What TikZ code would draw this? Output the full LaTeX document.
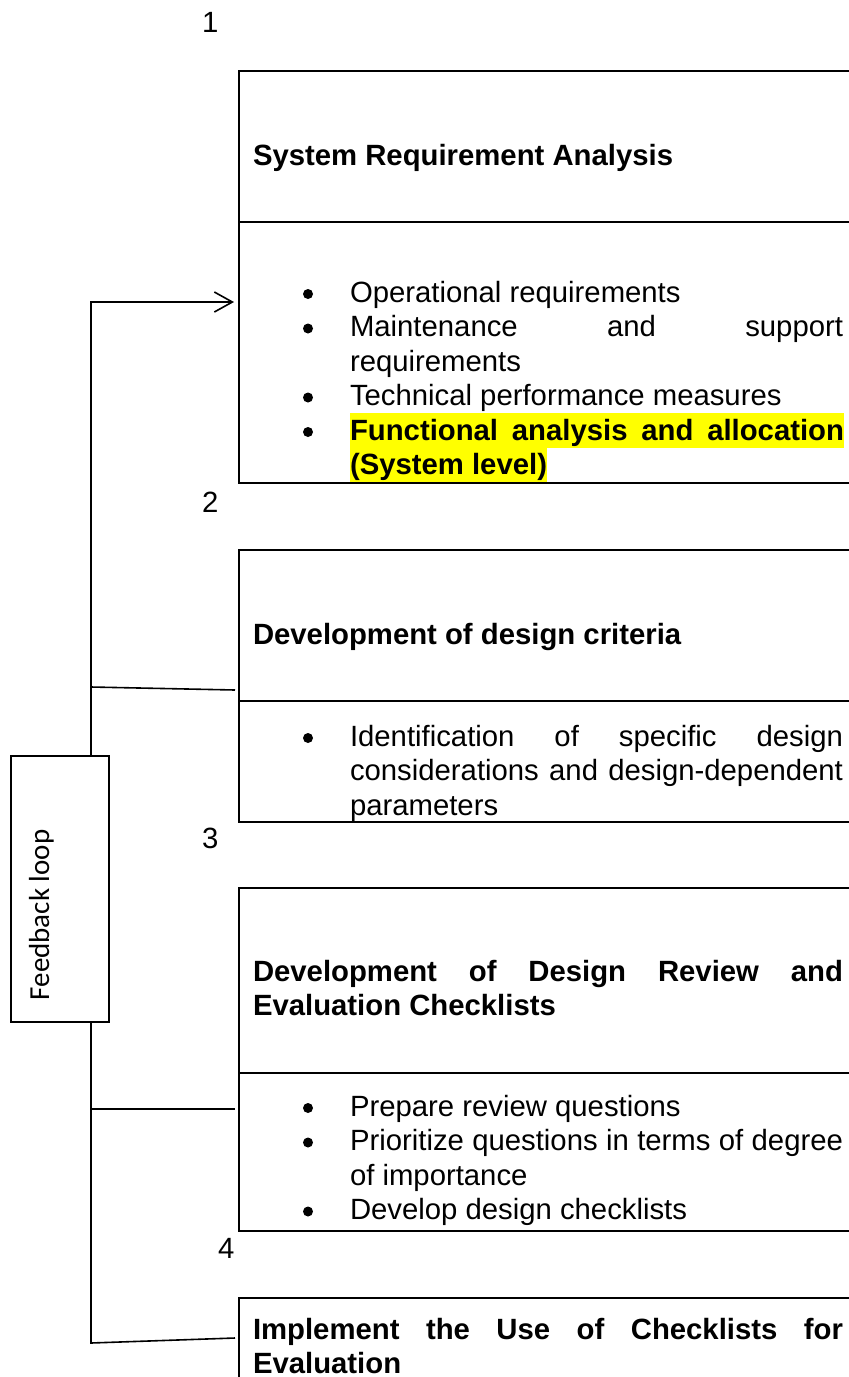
\documentclass[tikz,border=0pt]{standalone}
\usepackage{fontspec}
\setmainfont{Liberation Sans}
\newfontfamily\sidefont{Carlito}
\usetikzlibrary{arrows.meta}
\definecolor{hilite}{RGB}{255,255,0}
\begin{document}
\begin{tikzpicture}[x=1pt,y=-1pt,
  every node/.style={inner sep=0pt, outer sep=0pt},
  body/.style={anchor=base west, font=\fontsize{29.3}{34.5}\selectfont},
  head/.style={anchor=base west, font=\fontsize{29.3}{34.5}\selectfont\bfseries},
  hibox/.style={anchor=base west, fill=hilite, text height=27pt, text depth=7.5pt,
                font=\fontsize{29.3}{34.5}\selectfont\bfseries},
  dot/.style={circle, fill=black, minimum size=10pt},
  stagebox/.style={draw, line width=2.2pt, anchor=north west, minimum width=700pt},
  divider/.style={line width=2.2pt},
  link/.style={line width=1.6pt},
  fbbox/.style={draw, line width=1.2pt, minimum width=98pt, minimum height=266pt},
]
\useasboundingbox (0,0) rectangle (849,1377);
\clip (0,0) rectangle (849,1377);

% stage numbers
\node[body] (n1) at (202,32) {1};
\node[body] (n2) at (202,512) {2};
\node[body] (n3) at (202,848) {3};
\node[body] (n4) at (218,1258) {4};

% stage 1
\node[stagebox, minimum height=412pt] (box1) at (239,71) {};
\draw[divider] (239,222) -- (900,222);
\node[head] (t1) at (253,165) {System Requirement Analysis};
\node[dot] (d11) at (308,294) {};
\node[body] (l11) at (350,302) {Operational requirements};
\node[dot] (d12) at (308,328.5) {};
\node[body] (l12) at (350,336.5) {\makebox[493pt][s]{Maintenance and support}};
\node[body] (l13) at (350,371) {requirements};
\node[dot] (d14) at (308,397.5) {};
\node[body] (l14) at (350,405.5) {Technical performance measures};
\node[dot] (d15) at (308,432) {};
\node[hibox] (l15) at (350,440) {\makebox[494pt][s]{Functional analysis and allocation}};
\node[hibox] (l16) at (350,474.5) {(System level)};

% stage 2
\node[stagebox, minimum height=272pt] (box2) at (239,550) {};
\draw[divider] (239,701) -- (900,701);
\node[head] (t2) at (253,644) {Development of design criteria};
\node[dot] (d21) at (308,738) {};
\node[body] (l21) at (350,746) {\makebox[493pt][s]{Identification of specific design}};
\node[body] (l22) at (350,780.5) {\makebox[493pt][s]{considerations and design-dependent}};
\node[body] (l23) at (350,815) {parameters};

% stage 3
\node[stagebox, minimum height=343pt] (box3) at (239,888) {};
\draw[divider] (239,1073) -- (900,1073);
\node[head] (t31) at (253,981) {\makebox[590pt][s]{Development of Design Review and}};
\node[head] (t32) at (253,1015.5) {Evaluation Checklists};
\node[dot] (d31) at (308,1108) {};
\node[body] (l31) at (350,1116) {Prepare review questions};
\node[dot] (d32) at (308,1142.5) {};
\node[body] (l32) at (350,1150.5) {\makebox[493pt][s]{Prioritize questions in terms of degree}};
\node[body] (l33) at (350,1185) {of importance};
\node[dot] (d34) at (308,1211.5) {};
\node[body] (l34) at (350,1219.5) {Develop design checklists};

% stage 4
\node[stagebox, minimum height=200pt] (box4) at (239,1298) {};
\node[head] (t41) at (253,1339) {\makebox[590pt][s]{Implement the Use of Checklists for}};
\node[head] (t42) at (253,1373.5) {Evaluation};

% feedback loop
\node[fbbox] (fb) at (60,889) {};
\node[rotate=90, anchor=base, font=\sidefont\fontsize{29}{34}\selectfont] (fbtext) at (49,915) {Feedback loop};

\coordinate (top) at (91,302);
\coordinate (in1) at (234,302);
\coordinate (j2) at (91,687);
\coordinate (in2) at (235,690);
\coordinate (j3) at (91,1109);
\coordinate (in3) at (235,1109);
\coordinate (bot) at (91,1343);
\coordinate (in4) at (235,1338);

\draw[link, -{Straight Barb[length=18pt, width=20pt, line width=1.6pt]}]
  (top |- fb.north) -- (top) -- (in1);
\draw[link] (top |- fb.south) -- (bot) -- (in4);
\draw[link] (j2) -- (in2);
\draw[link] (j3) -- (in3);
\end{tikzpicture}
\end{document}
